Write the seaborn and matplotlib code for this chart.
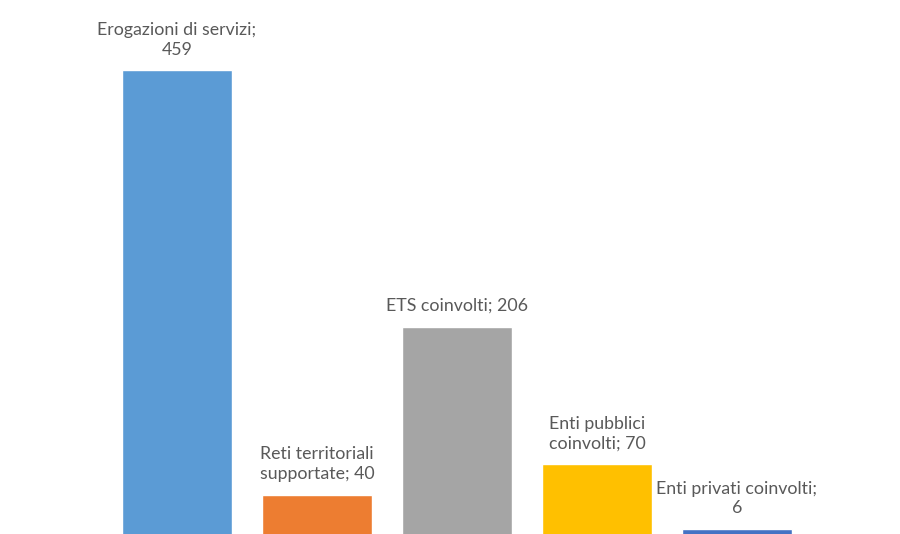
import matplotlib
matplotlib.use("Agg")
import matplotlib.pyplot as plt
import seaborn as sns
import pandas as pd

categories = ["Erogazioni di servizi", "Reti territoriali supportate", "ETS coinvolti",
              "Enti pubblici coinvolti", "Enti privati coinvolti"]
values = [459, 40, 206, 70, 6]
labels = ["Erogazioni di servizi;\n459", "Reti territoriali\nsupportate; 40", "ETS coinvolti; 206",
          "Enti pubblici\ncoinvolti; 70", "Enti privati coinvolti;\n6"]
colors = ["#5B9BD5", "#ED7D31", "#A5A5A5", "#FFC000", "#4472C4"]

sns.set_style("white")
plt.rcParams['font.family'] = ['Lato', 'DejaVu Sans']

df = pd.DataFrame({"cat": categories, "val": values})

fig = plt.figure(figsize=(9, 5.34), dpi=100)
ax = fig.add_axes([107/900, -1/534, 700/900, 506/534])
sns.barplot(data=df, x="cat", y="val", hue="cat", palette=colors, width=0.786,
            legend=False, ax=ax, saturation=1)
ax.set_xlim(-0.5, 4.5)
ax.set_ylim(0, 500)
ax.axis("off")

for i, (v, lab) in enumerate(zip(values, labels)):
    ax.annotate(lab, xy=(i, v), xytext=(0, 9), textcoords="offset points",
                ha="center", va="bottom", fontsize=12.8, color="#595959",
                multialignment="center", linespacing=1.3)

fig.savefig("out.png", dpi=100)
